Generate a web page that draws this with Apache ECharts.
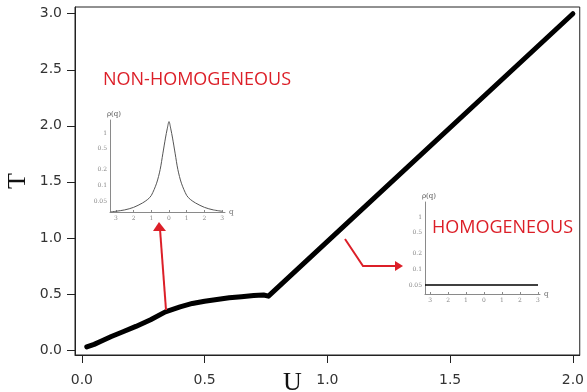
<!DOCTYPE html>
<html>
<head>
<meta charset="utf-8">
<script src="https://cdn.jsdelivr.net/npm/echarts@6/dist/echarts.min.js"></script>
<style>
  html, body { margin: 0; padding: 0; background: #fff; }
  #chart { width: 587px; height: 392px; }
</style>
</head>
<body>
<div id="chart"></div>
<script>
// Phase boundary T(U)
const uValues = [0.02, 0.05, 0.08, 0.12, 0.17, 0.22, 0.28, 0.34, 0.40, 0.45, 0.50, 0.55, 0.60, 0.65, 0.70, 0.74, 0.76, 2.0];
const tValues = [0.027, 0.05, 0.08, 0.12, 0.165, 0.21, 0.27, 0.34, 0.385, 0.415, 0.435, 0.45, 0.465, 0.475, 0.485, 0.49, 0.48, 3.0];
const uTicks = [0, 0.5, 1.0, 1.5, 2.0];
const tTicks = [0, 0.5, 1.0, 1.5, 2.0, 2.5, 3.0];

// Density profile rho(q), non-homogeneous phase
const qPeak = [-3.3, -3.0, -2.5, -2.0, -1.5, -1.2, -1.0, -0.7, -0.5, -0.35, -0.2, -0.1, 0, 0.1, 0.2, 0.35, 0.5, 0.7, 1.0, 1.2, 1.5, 2.0, 2.5, 3.0];
const rhoPeak = [0.031, 0.032, 0.034, 0.038, 0.046, 0.054, 0.064, 0.11, 0.2, 0.4, 0.8, 1.2, 1.65, 1.2, 0.8, 0.4, 0.2, 0.11, 0.064, 0.054, 0.046, 0.038, 0.034, 0.032];

// Density profile rho(q), homogeneous phase
const qFlat = [-3.28, 3.0];
const rhoFlat = [0.05, 0.05];

const qTicks = [-3, -2, -1, 0, 1, 2, 3];
const rhoTicks = [0.05, 0.1, 0.2, 0.5, 1];

const RED = '#dc1f28';
const AX = '#222';
const INSET = '#8a8a8a';

const zip = (xs, ys) => xs.map((x, i) => [x, ys[i]]);

function insetX(gridIndex, min, max) {
  return {
    type: 'value', gridIndex, min, max,
    name: 'q', nameLocation: 'end', nameGap: 4,
    nameTextStyle: { fontSize: 7, color: '#666', fontFamily: 'DejaVu Serif' },
    splitLine: { show: false },
    axisLine: { onZero: false, lineStyle: { color: INSET, width: 1 } },
    axisTick: { show: true, inside: true, length: 2, customValues: qTicks, lineStyle: { color: INSET } },
    axisLabel: {
      customValues: qTicks, margin: 3, fontSize: 6, color: '#888',
      fontFamily: 'DejaVu Serif', hideOverlap: false,
      formatter: v => String(Math.abs(v))
    }
  };
}

function insetY(gridIndex, min, max) {
  return {
    type: 'log', gridIndex, min, max, logBase: 10,
    name: 'ρ(q)', nameLocation: 'end', nameGap: 2,
    nameTextStyle: { fontSize: 7, color: '#555', fontFamily: 'DejaVu Serif', align: 'left', padding: [0, 0, 0, -3] },
    splitLine: { show: false },
    axisLine: { onZero: false, lineStyle: { color: INSET, width: 1 } },
    axisTick: { show: false },
    axisLabel: {
      customValues: rhoTicks, margin: 3, fontSize: 6, color: '#888',
      fontFamily: 'DejaVu Serif', hideOverlap: false,
      formatter: v => String(v)
    }
  };
}

const chart = echarts.init(document.getElementById('chart'), null, { renderer: 'canvas' });

chart.setOption({
  animation: false,
  backgroundColor: '#fff',
  grid: [
    { left: 75, right: 6, top: 7, bottom: 37, show: true, borderColor: AX, borderWidth: 1, backgroundColor: 'transparent' },
    { left: 110, top: 120, width: 115, height: 92 },
    { left: 425, top: 202, width: 115, height: 92 }
  ],
  xAxis: [
    {
      type: 'value', gridIndex: 0, min: -0.028, max: 2.028,
      splitLine: { show: false },
      axisLine: { onZero: false, lineStyle: { color: AX, width: 1 } },
      axisTick: { show: true, length: 8, customValues: uTicks, lineStyle: { color: AX } },
      axisLabel: {
        customValues: uTicks, margin: 18, fontSize: 14, color: '#333',
        fontFamily: 'DejaVu Sans', formatter: v => v.toFixed(1)
      }
    },
    insetX(1, -3.33, 3.16),
    insetX(2, -3.28, 3.11)
  ],
  yAxis: [
    {
      type: 'value', gridIndex: 0, min: -0.045, max: 3.06,
      splitLine: { show: false },
      axisLine: { onZero: false, lineStyle: { color: AX, width: 1 } },
      axisTick: { show: true, length: 8, customValues: tTicks, lineStyle: { color: AX } },
      axisLabel: {
        customValues: tTicks, margin: 13, fontSize: 14, color: '#333',
        fontFamily: 'DejaVu Sans', formatter: v => v.toFixed(1)
      }
    },
    insetY(1, 0.031, 1.77),
    insetY(2, 0.0337, 1.93)
  ],
  series: [
    {
      type: 'line', xAxisIndex: 0, yAxisIndex: 0,
      data: zip(uValues, tValues),
      showSymbol: false, smooth: false,
      lineStyle: { color: '#000', width: 5, cap: 'round', join: 'round' },
      z: 5
    },
    {
      type: 'line', xAxisIndex: 1, yAxisIndex: 1,
      data: zip(qPeak, rhoPeak),
      showSymbol: false, smooth: 0.3,
      lineStyle: { color: '#555', width: 1 }
    },
    {
      type: 'line', xAxisIndex: 2, yAxisIndex: 2,
      data: zip(qFlat, rhoFlat),
      showSymbol: false,
      lineStyle: { color: '#000', width: 1.5 }
    }
  ],
  graphic: [
    // axis titles
    { type: 'text', left: 283, top: 370, z: 20,
      style: { text: 'U', font: '26px "Liberation Serif"', fill: '#111' } },
    { type: 'text', x: 18, y: 181, rotation: Math.PI / 2, z: 20,
      style: { text: 'T', font: '26px "Liberation Serif"', fill: '#111', align: 'center', verticalAlign: 'middle' } },
    // phase labels
    { type: 'text', x: 103, y: 80, z: 20,
      style: { text: 'NON-HOMOGENEOUS', font: '18px "Open Sans"', fill: RED, verticalAlign: 'middle' } },
    { type: 'text', x: 432, y: 228, z: 20,
      style: { text: 'HOMOGENEOUS', font: '18px "Open Sans"', fill: RED, verticalAlign: 'middle' } },
    // arrow to the non-homogeneous profile
    { type: 'line', z: 15, shape: { x1: 166, y1: 310, x2: 160, y2: 229 },
      style: { stroke: RED, lineWidth: 2 } },
    { type: 'polygon', z: 15, shape: { points: [[159, 222], [153, 231], [166, 231]] },
      style: { fill: RED } },
    // arrow to the homogeneous profile
    { type: 'polyline', z: 15, shape: { points: [[345, 239], [363, 266], [396, 266]] },
      style: { stroke: RED, lineWidth: 2, fill: null } },
    { type: 'polygon', z: 15, shape: { points: [[403, 266], [395, 261], [395, 271]] },
      style: { fill: RED } }
  ]
});
</script>
</body>
</html>
